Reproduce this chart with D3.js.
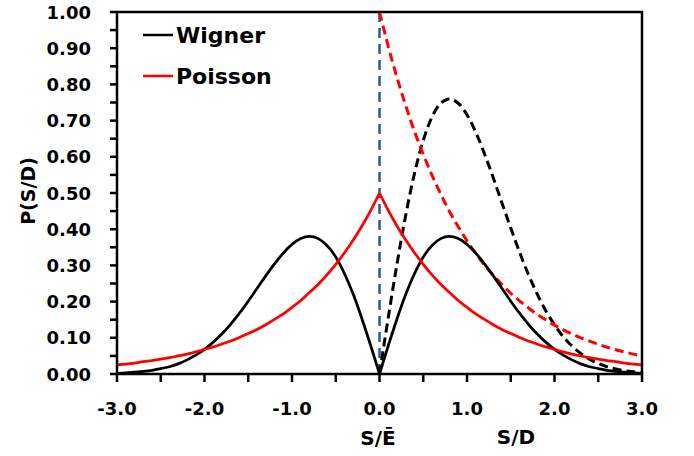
<!DOCTYPE html>
<html>
<head>
<meta charset="utf-8">
<script src="https://cdn.jsdelivr.net/npm/d3@7/dist/d3.min.js"></script>
<style>
  html, body { margin: 0; padding: 0; background: #fff; }
  svg text { font-family: "DejaVu Sans", sans-serif; font-weight: bold; fill: #000; }
</style>
</head>
<body>
<svg id="chart" width="694" height="456"></svg>
<script>
// Spacing grid S/D for the one-sided curves (0 .. 3)
const sPos = [0.0, 0.1, 0.2, 0.3, 0.4, 0.5, 0.6, 0.7, 0.8, 0.9, 1.0,
              1.1, 1.2, 1.3, 1.4, 1.5, 1.6, 1.7, 1.8, 1.9, 2.0,
              2.1, 2.2, 2.3, 2.4, 2.5, 2.6, 2.7, 2.8, 2.9, 3.0];

// Full grid for the symmetric curves (-3 .. 3)
const sFull = [-3.0, -2.9, -2.8, -2.7, -2.6, -2.5, -2.4, -2.3, -2.2, -2.1,
               -2.0, -1.9, -1.8, -1.7, -1.6, -1.5, -1.4, -1.3, -1.2, -1.1,
               -1.0, -0.9, -0.8, -0.7, -0.6, -0.5, -0.4, -0.3, -0.2, -0.1,
                0.0, 0.1, 0.2, 0.3, 0.4, 0.5, 0.6, 0.7, 0.8, 0.9, 1.0,
                1.1, 1.2, 1.3, 1.4, 1.5, 1.6, 1.7, 1.8, 1.9, 2.0,
                2.1, 2.2, 2.3, 2.4, 2.5, 2.6, 2.7, 2.8, 2.9, 3.0];

// Wigner distribution (dashed, S/D > 0)
const wignerDashed = [0.000, 0.156, 0.304, 0.439, 0.554, 0.645, 0.710, 0.748, 0.760, 0.748, 0.716,
                      0.668, 0.608, 0.542, 0.472, 0.403, 0.337, 0.276, 0.222, 0.175, 0.136,
                      0.103, 0.077, 0.057, 0.041, 0.029, 0.020, 0.014, 0.009, 0.006, 0.004];

// Poisson distribution (dashed, S/D > 0)
const poissonDashed = [1.000, 0.905, 0.819, 0.741, 0.670, 0.607, 0.549, 0.497, 0.449, 0.407, 0.368,
                       0.333, 0.301, 0.273, 0.247, 0.223, 0.202, 0.183, 0.165, 0.150, 0.135,
                       0.122, 0.111, 0.100, 0.091, 0.082, 0.074, 0.067, 0.061, 0.055, 0.050];

// Symmetric Wigner (solid, -3 .. 3)
const wignerSolid = [0.002, 0.003, 0.005, 0.007, 0.010, 0.015, 0.020, 0.028, 0.039, 0.052,
                     0.068, 0.088, 0.111, 0.138, 0.168, 0.201, 0.236, 0.271, 0.304, 0.334,
                     0.358, 0.374, 0.380, 0.374, 0.355, 0.323, 0.277, 0.220, 0.152, 0.078,
                     0.000, 0.078, 0.152, 0.220, 0.277, 0.323, 0.355, 0.374, 0.380, 0.374, 0.358,
                     0.334, 0.304, 0.271, 0.236, 0.201, 0.168, 0.138, 0.111, 0.088, 0.068,
                     0.052, 0.039, 0.028, 0.020, 0.015, 0.010, 0.007, 0.005, 0.003, 0.002];

// Symmetric Poisson (solid, -3 .. 3)
const poissonSolid = [0.025, 0.027, 0.030, 0.034, 0.037, 0.041, 0.045, 0.050, 0.055, 0.061,
                      0.068, 0.075, 0.083, 0.091, 0.101, 0.112, 0.123, 0.136, 0.151, 0.166,
                      0.184, 0.203, 0.225, 0.248, 0.274, 0.303, 0.335, 0.370, 0.409, 0.452,
                      0.500, 0.452, 0.409, 0.370, 0.335, 0.303, 0.274, 0.248, 0.225, 0.203, 0.184,
                      0.166, 0.151, 0.136, 0.123, 0.112, 0.101, 0.091, 0.083, 0.075, 0.068,
                      0.061, 0.055, 0.050, 0.045, 0.041, 0.037, 0.034, 0.030, 0.027, 0.025];

// Vertical reference line at S = 0
const refLineX = [0.0, 0.0];
const refLineY = [0.0, 1.0];

// Axis ticks
const xMajor = [-3, -2, -1, 0, 1, 2, 3];
const xMinor = [-2.5, -1.5, -0.5, 0.5, 1.5, 2.5];
const yMajor = [0.0, 0.1, 0.2, 0.3, 0.4, 0.5, 0.6, 0.7, 0.8, 0.9, 1.0];
const yMinor = [0.05, 0.15, 0.25, 0.35, 0.45, 0.55, 0.65, 0.75, 0.85, 0.95];

const legendNames = ["Wigner", "Poisson"];
const legendColors = ["#000000", "#ff0000"];

const margin = { left: 117, right: 52, top: 12, bottom: 82 };
const W = 694, H = 456;
const svg = d3.select("#chart");

const x = d3.scaleLinear().domain([-3, 3]).range([margin.left, W - margin.right]);
const y = d3.scaleLinear().domain([0, 1]).range([H - margin.bottom, margin.top]);

const line = d3.line().x(d => x(d[0])).y(d => y(d[1])).curve(d3.curveCatmullRom.alpha(0.5));
const straight = d3.line().x(d => x(d[0])).y(d => y(d[1]));

// Plain hyphen-minus for negative tick values
const fmtX = d => d3.format(".1f")(d).replace("\u2212", "-");

// Blue reference line
svg.append("path")
  .attr("d", straight(d3.zip(refLineX, refLineY)))
  .attr("fill", "none").attr("stroke", "#2f5597").attr("stroke-width", 2.5)
  .attr("stroke-dasharray", "10,6");

// Dashed curves
svg.append("path")
  .attr("d", line(d3.zip(sPos, wignerDashed)))
  .attr("fill", "none").attr("stroke", "#000").attr("stroke-width", 3)
  .attr("stroke-dasharray", "9,5");
svg.append("path")
  .attr("d", line(d3.zip(sPos, poissonDashed)))
  .attr("fill", "none").attr("stroke", "#ff0000").attr("stroke-width", 3)
  .attr("stroke-dasharray", "9,5");

// Solid curves (split at the cusp so the corner stays sharp)
function solid(values, color) {
  const pts = d3.zip(sFull, values);
  const left = pts.filter(d => d[0] <= 0);
  const right = pts.filter(d => d[0] >= 0);
  [left, right].forEach(seg => {
    svg.append("path")
      .attr("d", line(seg))
      .attr("fill", "none").attr("stroke", color).attr("stroke-width", 2.75)
      .attr("stroke-linejoin", "miter");
  });
}
solid(wignerSolid, "#000000");
solid(poissonSolid, "#ff0000");

// Frame
const axisW = 2.5;
svg.append("rect")
  .attr("x", x(-3)).attr("y", y(1))
  .attr("width", x(3) - x(-3)).attr("height", y(0) - y(1))
  .attr("fill", "none").attr("stroke", "#000").attr("stroke-width", axisW);

// X axis ticks and labels
const xAxisG = svg.append("g");
xAxisG.selectAll("line.xt").data(xMajor.concat(xMinor)).join("line")
  .attr("x1", d => x(d)).attr("x2", d => x(d))
  .attr("y1", y(0)).attr("y2", y(0) + 8)
  .attr("stroke", "#000").attr("stroke-width", axisW);
xAxisG.selectAll("text").data(xMajor).join("text")
  .attr("x", d => x(d)).attr("y", 415)
  .attr("text-anchor", "middle").attr("font-size", 18)
  .text(fmtX);

// Y axis ticks and labels
const yAxisG = svg.append("g");
yAxisG.selectAll("line").data(yMajor.concat(yMinor)).join("line")
  .attr("x1", x(-3) - 7).attr("x2", x(-3))
  .attr("y1", d => y(d)).attr("y2", d => y(d))
  .attr("stroke", "#000").attr("stroke-width", axisW);
yAxisG.selectAll("text").data(yMajor).join("text")
  .attr("x", 91).attr("y", d => y(d) + 6.5)
  .attr("text-anchor", "end").attr("font-size", 18)
  .text(d => d3.format(".2f")(d));

// Axis titles
svg.append("text").attr("x", 378).attr("y", 445)
  .attr("text-anchor", "middle").attr("font-size", 20).text("S/Ē");
svg.append("text").attr("x", 516).attr("y", 444)
  .attr("text-anchor", "middle").attr("font-size", 20).text("S/D");
svg.append("text")
  .attr("transform", "translate(35,191) rotate(-90)")
  .attr("text-anchor", "middle").attr("font-size", 19).text("P(S/D)");

// Legend
const lg = svg.append("g");
legendNames.forEach((name, i) => {
  const ly = 35 + i * 41;
  lg.append("line").attr("x1", 143).attr("x2", 173).attr("y1", ly).attr("y2", ly)
    .attr("stroke", legendColors[i]).attr("stroke-width", 2.5);
  lg.append("text").attr("x", 176).attr("y", ly + 8)
    .attr("font-size", 22).text(name);
});
</script>
</body>
</html>
